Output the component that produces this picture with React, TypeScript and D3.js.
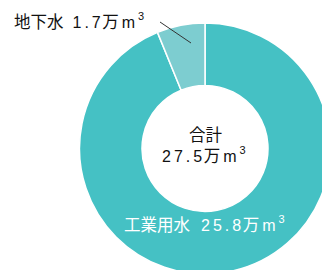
import React from "react";
import * as d3 from "d3";

const categories = ["工業用水", "地下水"];
const values = [25.8, 1.7];
const valueLabels = ["25.8", "1.7"];
const totalTitle = "合計";
const totalLabel = "27.5";
const colors = ["#45c1c4", "#7dcdd0"];

const W = 322;
const H = 270;
const cx = 205;
const cy = 148.5;
const outerR = 125.5;
const innerR = 63;

const font = "'Liberation Sans', 'Noto Sans CJK JP', sans-serif";

// "25.8万m³" with the wide digit spacing of the original
const Amount = ({ value, gap }: { value: string; gap: number }) => (
  <>
    <tspan dx={gap} letterSpacing={3}>{value}</tspan>
    <tspan dx={-1.5} letterSpacing={0} fontSize={16.5}>万</tspan>
    <tspan dx={3} letterSpacing={0}>m</tspan>
    <tspan dx={3} fontSize={11} dy={-8}>3</tspan>
  </>
);

const App = () => {
  const pie = d3
    .pie<number>()
    .sort(null)
    .value((d) => d);
  const arcs = pie(values);
  const arc = d3.arc<d3.PieArcDatum<number>>().innerRadius(innerR).outerRadius(outerR);

  return (
    <svg
      width={W}
      height={H}
      style={{ position: "absolute", left: 0, top: 0, background: "#fff" }}
      fontFamily={font}
      fontSize={16}
    >
      <g transform={`translate(${cx},${cy})`}>
        {arcs.map((a, i) => (
          <path
            key={categories[i]}
            d={arc(a) || ""}
            fill={colors[i]}
            stroke="#fff"
            strokeWidth={1.5}
          />
        ))}
      </g>
      {/* leader line for groundwater */}
      <line x1={160} y1={22} x2={191} y2={43} stroke="#333" strokeWidth={1} />
      <text x={14} y={28} fill="#111">
        <tspan fontSize={16.5}>{categories[1]}</tspan>
        <Amount value={valueLabels[1]} gap={9} />
      </text>
      <text x={cx + 0.5} y={141} textAnchor="middle" fill="#111" fontSize={16.5}>
        {totalTitle}
      </text>
      <text x={162} y={162} fill="#111">
        <Amount value={totalLabel} gap={0} />
      </text>
      <text x={124} y={230.5} fill="#fff">
        <tspan fontSize={16.5}>{categories[0]}</tspan>
        <Amount value={valueLabels[0]} gap={11} />
      </text>
    </svg>
  );
};

export default App;
